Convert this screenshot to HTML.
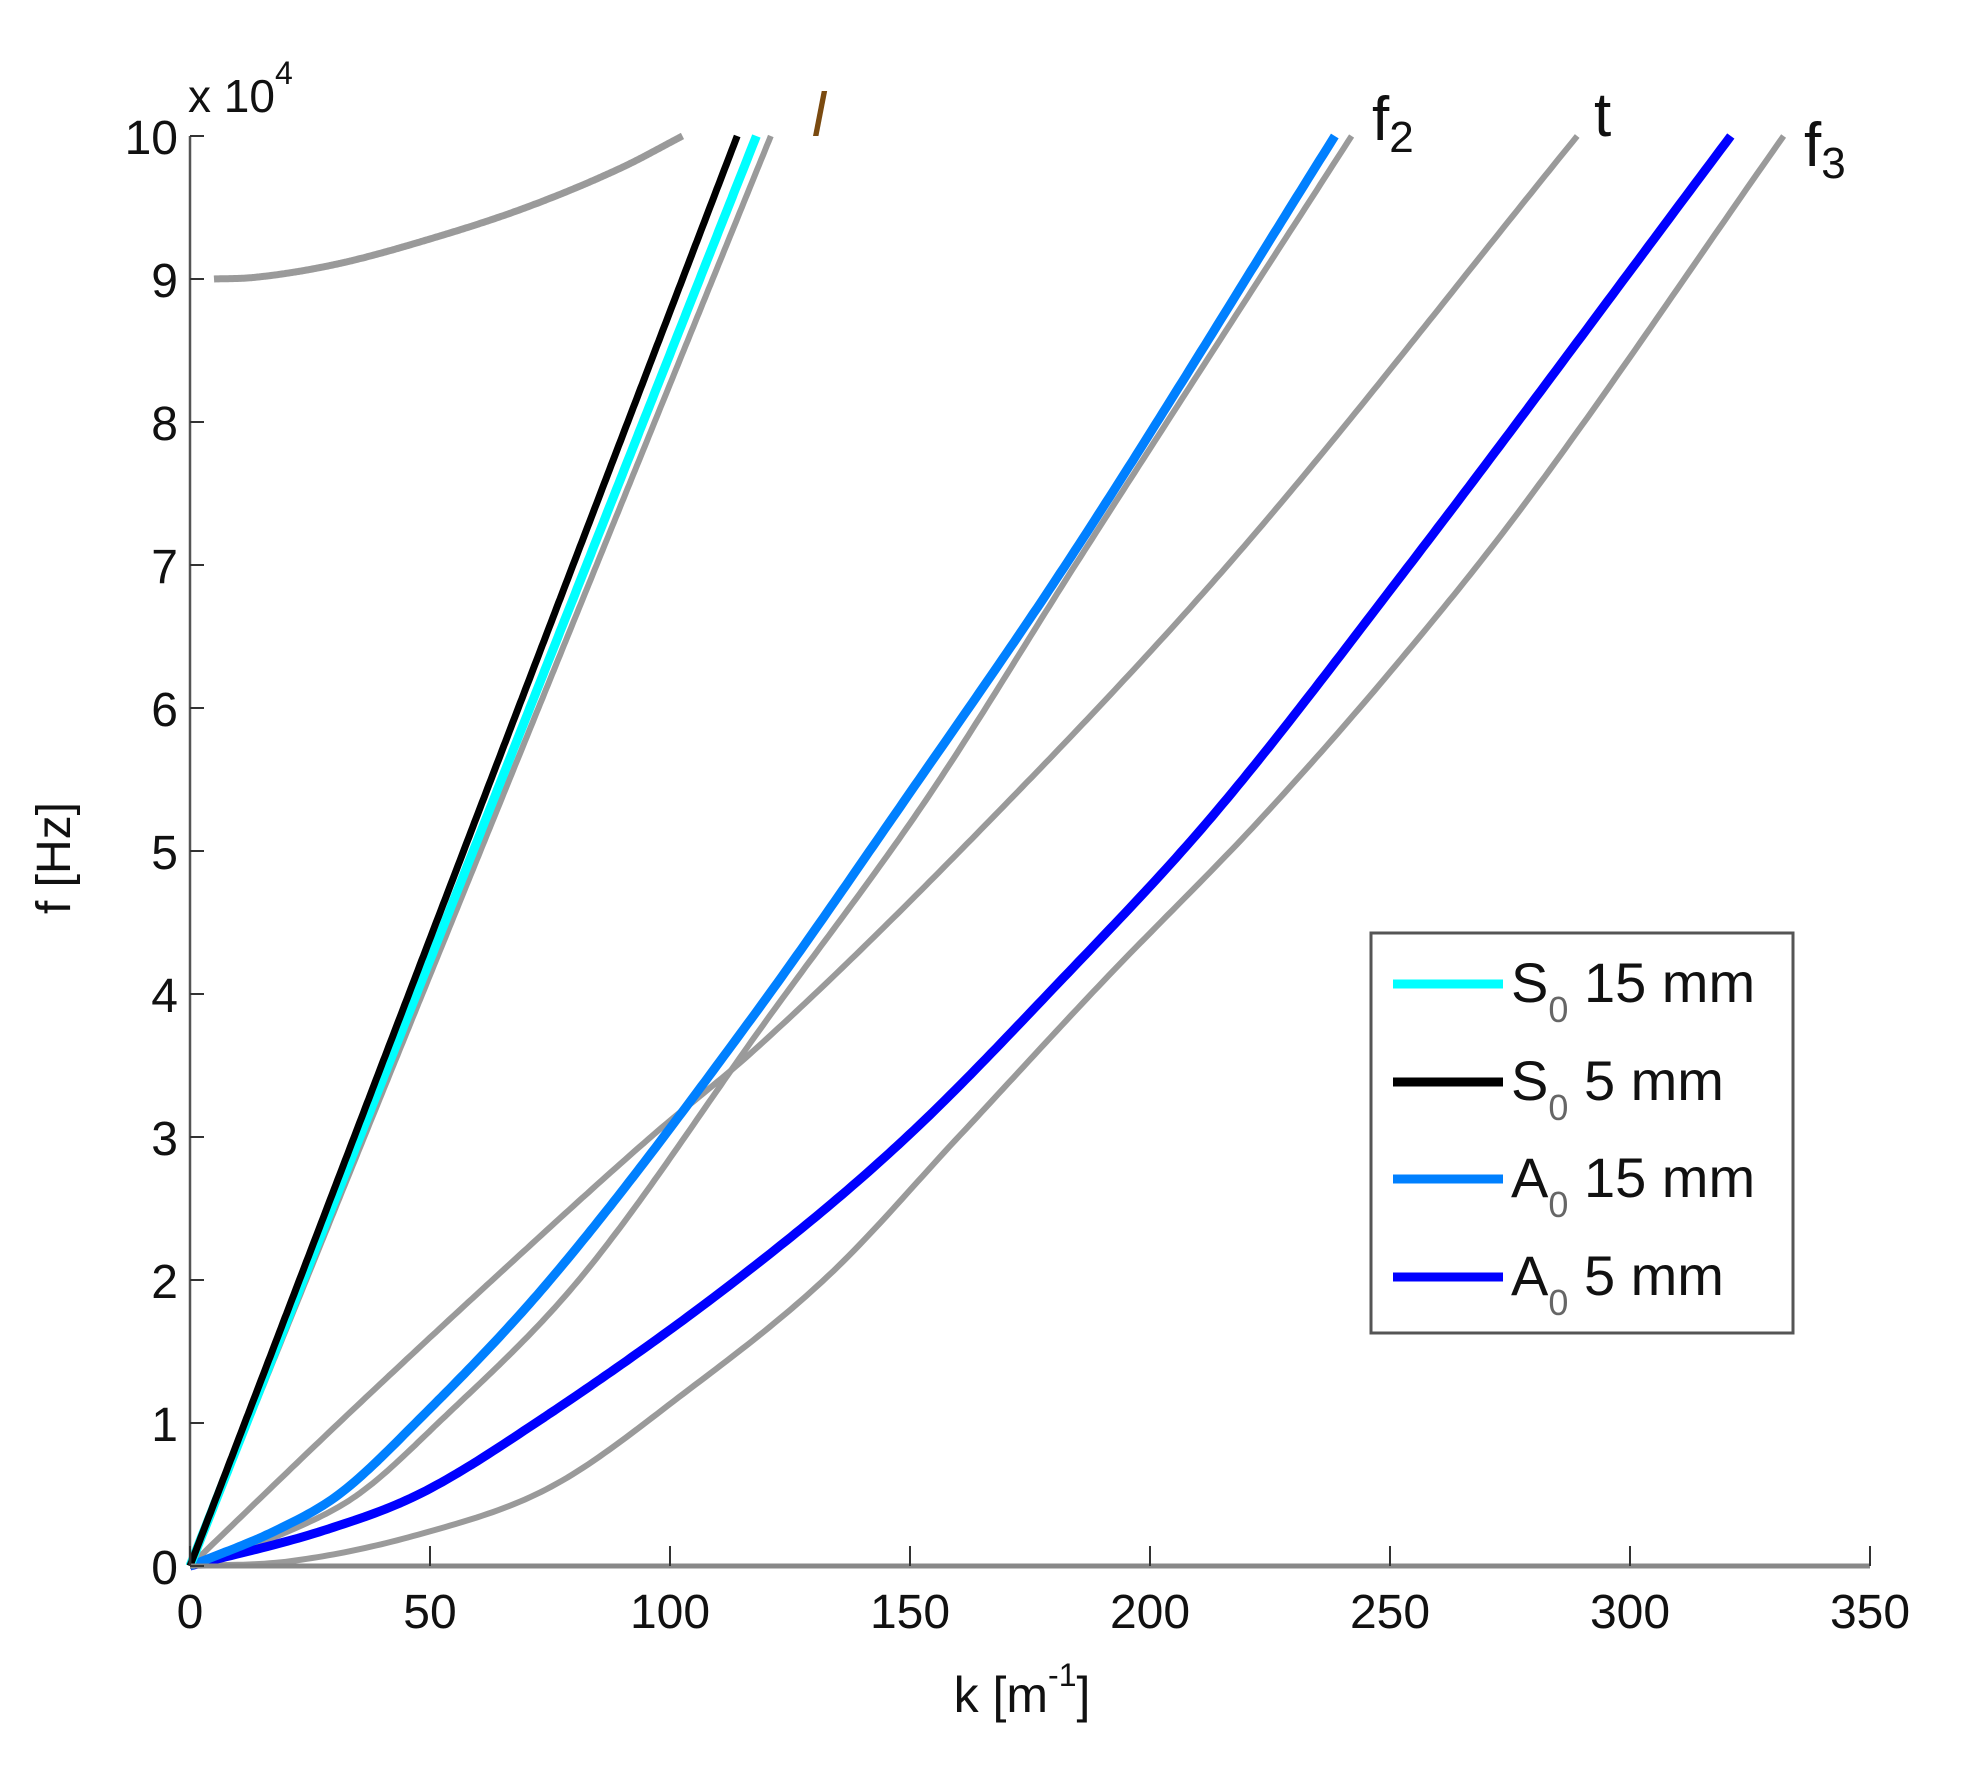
<!DOCTYPE html>
<html><head><meta charset="utf-8"><style>
body{margin:0;background:#fff}
svg{display:block}
text{font-family:"Liberation Sans",sans-serif}
</style></head><body>
<svg id="chart" width="1977" height="1767" viewBox="0 0 1977 1767" xmlns="http://www.w3.org/2000/svg">
<g id="curves"></g>
<g id="axes"></g>
<g>
<rect x="1371" y="933" width="422" height="400" fill="#fff" stroke="#555" stroke-width="3"/>
<line x1="1393" y1="984" x2="1503" y2="984" stroke="#00ffff" stroke-width="9"/>
<line x1="1393" y1="1082" x2="1503" y2="1082" stroke="#000" stroke-width="9"/>
<line x1="1393" y1="1179" x2="1503" y2="1179" stroke="#0080ff" stroke-width="9"/>
<line x1="1393" y1="1277" x2="1503" y2="1277" stroke="#0000ff" stroke-width="9"/>
<g font-size="56" fill="#111">
<text x="1511" y="1002">S<tspan font-size="36" fill="#666" dy="20">0</tspan><tspan dy="-20"> 15 mm</tspan></text>
<text x="1511" y="1100">S<tspan font-size="36" fill="#666" dy="20">0</tspan><tspan dy="-20"> 5 mm</tspan></text>
<text x="1511" y="1197">A<tspan font-size="36" fill="#666" dy="20">0</tspan><tspan dy="-20"> 15 mm</tspan></text>
<text x="1511" y="1295">A<tspan font-size="36" fill="#666" dy="20">0</tspan><tspan dy="-20"> 5 mm</tspan></text>
</g></g>
<g font-family="Liberation Serif,serif" font-size="62">
<text x="812" y="136" font-style="italic" fill="#7a4a10">l</text>
<text x="1372" y="140" fill="#111">f<tspan font-size="44" dy="12">2</tspan></text>
<text x="1594" y="136" fill="#111">t</text>
<text x="1804" y="166" fill="#111">f<tspan font-size="44" dy="12">3</tspan></text>
</g>
</svg>
<script>
const xTicks=[0,50,100,150,200,250,300,350];
const yTicks=[0,1,2,3,4,5,6,7,8,9,10];
const grayUpperK=[5,13,30,50,70,90,102.6];
const grayUpperF=[9.0,9.01,9.1,9.28,9.5,9.78,10];
const s05K=[0,114];const s05F=[0,10];
const s015K=[0,118];const s015F=[0,10];
const grayLK=[0,121];const grayLF=[0,10];
const grayTK=[0,31,63,96,117.3,159.8,217,289];
const grayTF=[0,1,2,3,3.6,4.98,7.03,10];
const a015K=[0,18,31,47,75,117,149,183,238.5];
const a015F=[0,0.25,0.5,1,2,3.83,5.36,7.03,10];
const grayF2K=[0,21,35,51.7,81,120.4,153.4,185,242];
const grayF2F=[0,0.25,0.5,1,2,3.83,5.36,7.03,10];
const a05K=[0,28,47.6,72,117.3,149,181,212.9,252,321];
const a05F=[0,0.25,0.5,1,2.09,2.99,4.08,5.24,6.91,10];
const grayF3K=[0,20,47.6,75,103,133,159.8,190,223.5,252,277,332];
const grayF3F=[0,0.03,0.22,0.55,1.21,2.03,2.99,4.08,5.24,6.33,7.38,10];
const X0=190,X1=1870,Y0=1566,Y1=136;
function xs(k){return X0+(X1-X0)*k/350;}
function ys(f){return Y0-(Y0-Y1)*f/10;}
const NS="http://www.w3.org/2000/svg";
// monotone cubic (Fritsch-Carlson) interpolation
function monotone(X,Y){
  const n=X.length,d=[],m=new Array(n);
  for(let i=0;i<n-1;i++)d.push((Y[i+1]-Y[i])/(X[i+1]-X[i]));
  m[0]=d[0];m[n-1]=d[n-2];
  for(let i=1;i<n-1;i++)m[i]=(d[i-1]*d[i]<=0)?0:(d[i-1]+d[i])/2;
  for(let i=0;i<n-1;i++){
    if(d[i]===0){m[i]=m[i+1]=0;continue;}
    const a=m[i]/d[i],b=m[i+1]/d[i],s=a*a+b*b;
    if(s>9){const t=3/Math.sqrt(s);m[i]=t*a*d[i];m[i+1]=t*b*d[i];}
  }
  return function(x){
    let i=0;while(i<n-2&&x>X[i+1])i++;
    const h=X[i+1]-X[i],t=(x-X[i])/h,t2=t*t,t3=t2*t;
    return (2*t3-3*t2+1)*Y[i]+(t3-2*t2+t)*h*m[i]+(-2*t3+3*t2)*Y[i+1]+(t3-t2)*h*m[i+1];
  };
}
function pathFrom(K,F){
  const g=monotone(K,F),a=K[0],b=K[K.length-1];
  let d="";
  for(let j=0;j<=300;j++){const k=a+(b-a)*j/300;d+=(j?" L":"M")+xs(k).toFixed(1)+","+ys(g(k)).toFixed(1);}
  return d;
}
const cg=document.getElementById('curves');
function curve(name,K,F,color,w){
  const el=document.createElementNS(NS,'path');
  
  
  el.setAttribute('d',pathFrom(K,F));
  el.setAttribute('fill','none');el.setAttribute('stroke',color);el.setAttribute('stroke-width',w);
  el.setAttribute('stroke-linejoin','round');
  cg.appendChild(el);
}
curve('gray-upper-curve',grayUpperK,grayUpperF,'#9a9a9a',7);
curve('gray-t-curve',grayTK,grayTF,'#9a9a9a',6);
curve('gray-f3-curve',grayF3K,grayF3F,'#9a9a9a',6);
curve('gray-f2-curve',grayF2K,grayF2F,'#9a9a9a',6);
curve('gray-l-curve',grayLK,grayLF,'#9a9a9a',6);
curve('a0-5mm-curve',a05K,a05F,'#0000ff',9);
curve('a0-15mm-curve',a015K,a015F,'#0080ff',9);
curve('s0-15mm-curve',s015K,s015F,'#00ffff',9);
curve('s0-5mm-curve',s05K,s05F,'#000000',7);
const ag=document.getElementById('axes');
function add(tag,attrs,name,txt){
  const el=document.createElementNS(NS,tag);
  for(const k in attrs)el.setAttribute(k,attrs[k]);
  
  
  if(txt!==undefined)el.textContent=txt;
  ag.appendChild(el);return el;
}
add('line',{x1:X0,y1:Y0,x2:X1,y2:Y0,stroke:'#888','stroke-width':5},'x-axis-line');
add('line',{x1:X0,y1:Y0,x2:X0,y2:Y1,stroke:'#555','stroke-width':2.5},'y-axis-line');
xTicks.forEach(v=>{
  add('line',{x1:xs(v),y1:Y0,x2:xs(v),y2:Y0-20,stroke:'#333','stroke-width':2},'x-tick');
  add('text',{x:xs(v),y:Y0+62,'font-size':48,'text-anchor':'middle',fill:'#111'},'x-tick-label',String(v));
});
yTicks.forEach(v=>{
  add('line',{x1:X0,y1:ys(v),x2:X0+14,y2:ys(v),stroke:'#333','stroke-width':2},'y-tick');
  add('text',{x:X0-12,y:ys(v)+18,'font-size':48,'text-anchor':'end',fill:'#111'},'y-tick-label',String(v));
});
const m=add('text',{x:X0-2,y:112,'font-size':46,fill:'#111'},'y-axis-multiplier','x 10');
const sup=document.createElementNS(NS,'tspan');sup.setAttribute('font-size','32');sup.setAttribute('dy','-28');sup.textContent='4';m.appendChild(sup);
add('text',{x:70,y:858,'font-size':48,'text-anchor':'middle',fill:'#111',transform:'rotate(-90 70 858)'},'y-axis-title','f [Hz]');
const xl=add('text',{x:1022,y:1712,'font-size':50,'text-anchor':'middle',fill:'#111'},'x-axis-title','k [m');
const s1=document.createElementNS(NS,'tspan');s1.setAttribute('font-size','32');s1.setAttribute('dy','-26');s1.textContent='-1';xl.appendChild(s1);
const s2=document.createElementNS(NS,'tspan');s2.setAttribute('dy','26');s2.textContent=']';xl.appendChild(s2);
</script>
</body></html>
